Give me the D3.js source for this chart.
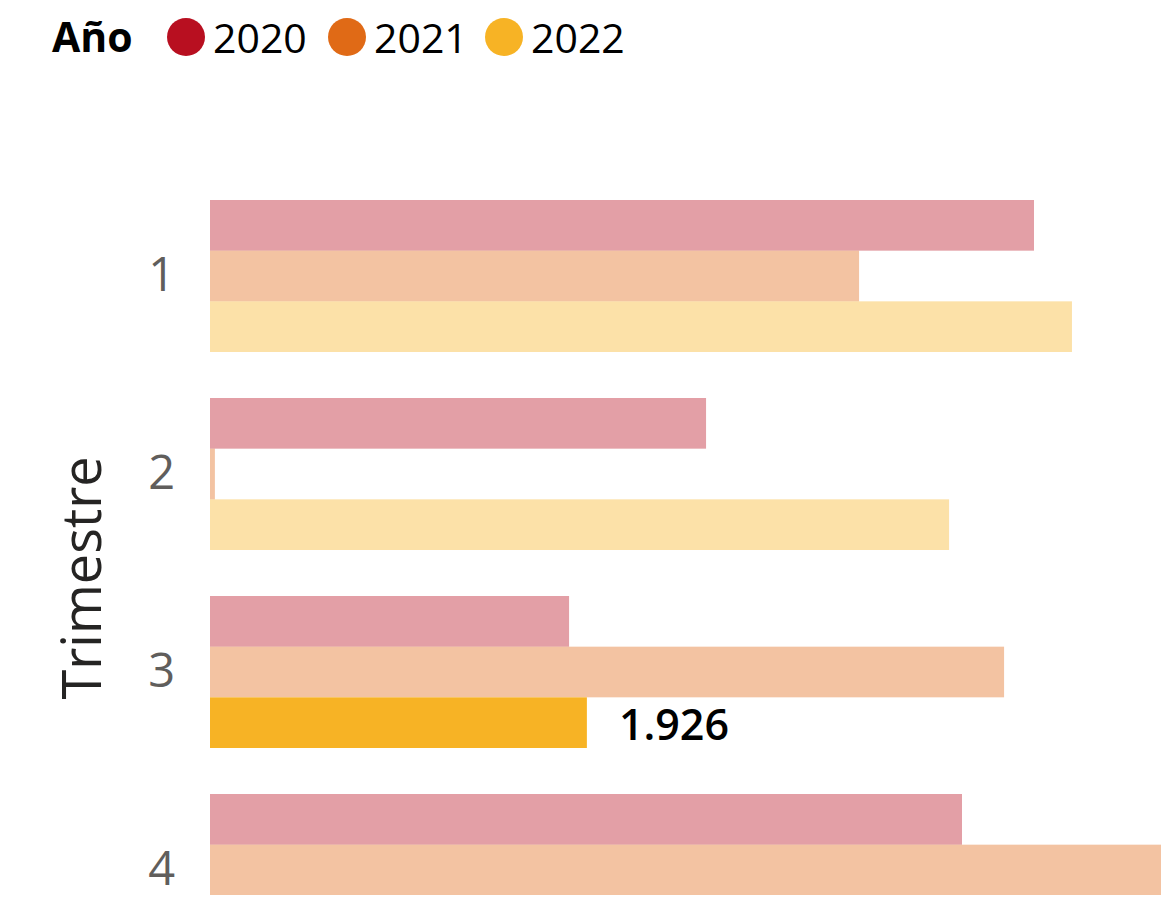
<!DOCTYPE html>
<html>
<head>
<meta charset="utf-8">
<script src="https://cdn.jsdelivr.net/npm/d3@7"></script>
<style>
  body { margin: 0; background: #fff; overflow: hidden; }
  svg { display: block; font-family: "Open Sans", "Noto Sans", sans-serif; }
</style>
</head>
<body>
<svg></svg>
<script>
var quarters = ["1", "2", "3", "4"];
var years = ["2020", "2021", "2022"];
var colors = ["#B80F20", "#E06A16", "#F7B325"];
var values2020 = [4211, 2535, 1835, 3843];
var values2021 = [3317, 25, 4058, 4860];
var values2022 = [4405, 3777, 1926, 3500];
var highlight = { quarter: "3", year: "2022" }; /*only this bar is selected*/

var drawChart = function()
{
  var width = 1172;
  var height = 905;
  var series = [values2020, values2021, values2022];

  var rows = [];
  quarters.forEach(function(q, i)
  {
    years.forEach(function(y, j)
    {
      rows.push({ quarter: q, year: y, value: series[j][i], color: colors[j] });
    });
  });

  var svg = d3.select("svg")
              .attr("width", width)
              .attr("height", height);

  var x = d3.scaleLinear()
            .domain([0, d3.max(rows, function(d) { return d.value; })])
            .range([210, 1161]);

  var y0 = d3.scaleBand()
             .domain(quarters)
             .range([177, 969])
             .paddingInner(46/198)
             .paddingOuter(23/198);

  var y1 = d3.scaleBand()
             .domain(years)
             .range([0, y0.bandwidth()]);

  /*plot area is cut off at the bottom of the visual, right below Q4 2021*/
  svg.append("clipPath")
     .attr("id", "plot")
     .append("rect")
     .attr("x", 0)
     .attr("y", 0)
     .attr("width", width)
     .attr("height", Math.floor(y0("4") + y1("2022")));

  svg.append("g")
     .attr("clip-path", "url(#plot)")
     .selectAll("rect.bar")
     .data(rows)
     .enter()
     .append("rect")
     .attr("class", "bar")
     .attr("x", x(0))
     .attr("y", function(d) { return y0(d.quarter) + y1(d.year); })
     .attr("width", function(d) { return x(d.value) - x(0); })
     .attr("height", y1.bandwidth())
     .attr("fill", function(d) { return d.color; })
     .attr("fill-opacity", function(d)
     {
       return (d.quarter == highlight.quarter && d.year == highlight.year) ? 1 : 0.4;
     });

  /*data label on the selected bar*/
  var sel = rows.filter(function(d) { return d.quarter == highlight.quarter && d.year == highlight.year; });
  svg.selectAll("text.label")
     .data(sel)
     .enter()
     .append("text")
     .attr("class", "label")
     .text(function(d) { return d3.format(",")(d.value).replace(",", "."); })
     .attr("x", function(d) { return x(d.value) + 32; })
     .attr("y", function(d) { return y0(d.quarter) + y1(d.year) + y1.bandwidth()/2; })
     .attr("dy", "0.4em")
     .attr("font-size", 43)
     .attr("font-weight", 600)
     .attr("fill", "#000");

  /*y axis*/
  var yAxis = svg.append("g")
                 .attr("transform", "translate(175,0)")
                 .call(d3.axisLeft(y0).tickSize(0).tickPadding(0));
  yAxis.select(".domain").remove();
  yAxis.selectAll("text")
       .attr("font-size", 47)
       .attr("font-family", "Open Sans, sans-serif")
       .attr("fill", "#605E5C");

  svg.append("text")
     .text("Trimestre")
     .attr("transform", "translate(101,578) rotate(-90)")
     .attr("text-anchor", "middle")
     .attr("font-size", 54)
     .attr("fill", "#252423");

  /*legend*/
  var legend = svg.append("g");
  legend.append("text")
        .text("Año")
        .attr("x", 52)
        .attr("y", 52)
        .attr("font-size", 41)
        .attr("font-weight", "bold")
        .attr("fill", "#000");

  var legendX = [186, 347, 504];
  var items = legend.selectAll("g.item")
                    .data(years)
                    .enter()
                    .append("g")
                    .attr("class", "item")
                    .attr("transform", function(d, i) { return "translate(" + legendX[i] + ",37)"; });
  items.append("circle")
       .attr("r", 19)
       .attr("fill", function(d, i) { return colors[i]; });
  items.append("text")
       .text(function(d) { return d; })
       .attr("x", 27)
       .attr("y", 16)
       .attr("font-size", 41)
       .attr("fill", "#000");
}

drawChart();
</script>
</body>
</html>
